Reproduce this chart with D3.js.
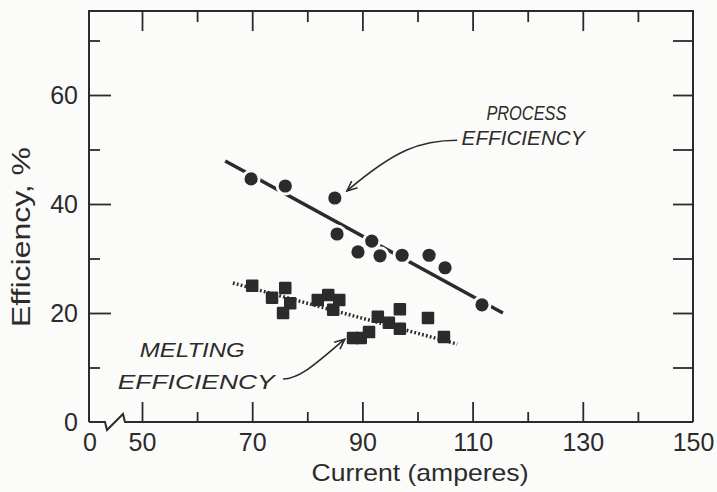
<!DOCTYPE html>
<html><head><meta charset="utf-8">
<script src="https://cdn.jsdelivr.net/npm/d3@7"></script>
<style>
html,body{margin:0;padding:0;background:#fbfbf9;}
svg{display:block;}
</style></head><body>
<svg id="chart" width="717" height="492"></svg>
<script>
// Process efficiency measurements (current in amperes, efficiency in %)
const processCurrent = [69.8, 76.0, 85.0, 85.4, 89.2, 91.7, 93.2, 97.2, 102.1, 105.0, 111.7];
const processEff     = [44.6, 43.3, 41.1, 34.5, 31.2, 33.2, 30.5, 30.6, 30.6, 28.3, 21.5];

// Melting efficiency measurements
const meltCurrent = [70.0, 73.6, 76.0, 76.9, 75.6, 81.9, 83.8, 85.8, 84.7, 88.3, 89.7, 91.2, 92.8, 94.8, 96.8, 96.8, 101.9, 104.8];
const meltEff     = [25.0, 22.8, 24.6, 21.8, 20.0, 22.4, 23.3, 22.4, 20.6, 15.4, 15.4, 16.5, 19.3, 18.2, 20.7, 17.1, 19.1, 15.6];

// Trend lines (end points)
const processFitCurrent = [65.1, 115.5];
const processFitEff     = [47.9, 20.0];
const meltFitCurrent    = [66.5, 107.2];
const meltFitEff        = [25.5, 14.3];

// Axis ticks
const xMajorTicks = [50, 70, 90, 110, 130];
const xMinorTicks = [60, 80, 100, 120, 140];
const xTickLabels = [50, 70, 90, 110, 130, 150];
const yMajorTicks = [20, 40, 60];
const yMinorTicks = [10, 30, 50, 70];
const yTickLabels = [0, 20, 40, 60];

const ink = "#2b2b2b";
const svg = d3.select("#chart");
const x = d3.scaleLinear().domain([50, 150]).range([142, 693]);
const y = d3.scaleLinear().domain([0, 60]).range([422, 95]);

const plotL = x(50) - 53, plotR = x(150), plotB = y(0), plotT = y(75.4);
const fontFam = "'Liberation Sans', Arial, sans-serif";

// ---- frame with broken x axis ----
const frame = svg.append("g").attr("fill", "none").attr("stroke", ink).attr("stroke-width", 2);
frame.append("path").attr("d",
  `M${plotL},${plotB} V${plotT} H${plotR} V${plotB}`);
frame.append("path").attr("d",
  `M${plotL},${plotB} H${plotL+16} L${plotL+18},${plotB+8} L${plotL+34},${plotB-8} L${plotL+36},${plotB} H${plotR}`);

// ---- ticks via d3 axes ----
function styleAxis(g) {
  g.select(".domain").remove();
  g.selectAll(".tick line").attr("stroke", ink).attr("stroke-width", 1.8);
  g.selectAll(".tick text").attr("fill", ink).attr("font-size", 25).attr("font-family", fontFam);
}
// bottom
svg.append("g").attr("transform", `translate(0,${plotB})`)
  .call(d3.axisBottom(x).tickValues(xMajorTicks).tickSize(-20).tickFormat(""))
  .call(styleAxis);
svg.append("g").attr("transform", `translate(0,${plotB})`)
  .call(d3.axisBottom(x).tickValues(xMinorTicks).tickSize(-10).tickFormat(""))
  .call(styleAxis);
svg.append("g").attr("transform", `translate(0,${plotB})`)
  .call(d3.axisBottom(x).tickValues(xTickLabels).tickSize(0).tickPadding(11).tickFormat(d3.format("d")))
  .call(styleAxis);
// top
svg.append("g").attr("transform", `translate(0,${plotT})`)
  .call(d3.axisTop(x).tickValues(xMajorTicks).tickSize(-20).tickFormat(""))
  .call(styleAxis);
svg.append("g").attr("transform", `translate(0,${plotT})`)
  .call(d3.axisTop(x).tickValues(xMinorTicks).tickSize(-11).tickFormat(""))
  .call(styleAxis);
// left
svg.append("g").attr("transform", `translate(${plotL},0)`)
  .call(d3.axisLeft(y).tickValues(yMajorTicks).tickSize(-22).tickFormat(""))
  .call(styleAxis);
svg.append("g").attr("transform", `translate(${plotL},0)`)
  .call(d3.axisLeft(y).tickValues(yMinorTicks).tickSize(-11).tickFormat(""))
  .call(styleAxis);
svg.append("g").attr("transform", `translate(${plotL},0)`)
  .call(d3.axisLeft(y).tickValues(yTickLabels).tickSize(0).tickPadding(11).tickFormat(d3.format("d")))
  .call(styleAxis);
// right
svg.append("g").attr("transform", `translate(${plotR},0)`)
  .call(d3.axisRight(y).tickValues(yMajorTicks.concat(yMinorTicks)).tickSize(-20).tickFormat(""))
  .call(styleAxis);
// "0" at the origin of the broken x axis
svg.append("text").attr("x", plotL + 1).attr("y", plotB + 11).attr("dy", "0.71em")
  .attr("text-anchor", "middle").attr("fill", ink).attr("font-size", 25)
  .attr("font-family", fontFam).text("0");

// ---- axis titles ----
svg.append("text").attr("x", 420).attr("y", 481).attr("text-anchor", "middle")
  .attr("font-size", 24).attr("font-family", fontFam).attr("fill", ink)
  .attr("textLength", 217).attr("lengthAdjust", "spacingAndGlyphs")
  .text("Current (amperes)");
svg.append("text").attr("transform", "translate(30,237) rotate(-90)")
  .attr("text-anchor", "middle").attr("font-size", 25).attr("font-family", fontFam).attr("fill", ink)
  .attr("textLength", 180).attr("lengthAdjust", "spacingAndGlyphs")
  .text("Efficiency, %");

// ---- trend lines ----
const line = d3.line().x(d => x(d[0])).y(d => y(d[1]));
svg.append("path").datum(d3.zip(processFitCurrent, processFitEff))
  .attr("d", line).attr("fill", "none").attr("stroke", ink).attr("stroke-width", 3.5);
svg.append("path").datum(d3.zip(meltFitCurrent, meltFitEff))
  .attr("d", line).attr("fill", "none").attr("stroke", ink).attr("stroke-width", 3.5)
  .attr("stroke-dasharray", "1.8,2.2");

// ---- process points: white halo then solid dot ----
const procPts = d3.zip(processCurrent, processEff);
svg.append("g").selectAll("circle").data(procPts).join("circle")
  .attr("cx", d => x(d[0])).attr("cy", d => y(d[1])).attr("r", 9.5).attr("fill", "#fbfbf9");
svg.append("g").selectAll("circle").data(procPts).join("circle")
  .attr("cx", d => x(d[0])).attr("cy", d => y(d[1])).attr("r", 6.6).attr("fill", ink);

// ---- melting points: squares ----
const sq = 12.5;
svg.append("g").selectAll("rect").data(d3.zip(meltCurrent, meltEff)).join("rect")
  .attr("x", d => x(d[0]) - sq / 2).attr("y", d => y(d[1]) - sq / 2)
  .attr("width", sq).attr("height", sq).attr("rx", 1.2).attr("fill", ink);

// ---- annotations ----
function arrow(pts) {
  const p = pts.map(d => [x(d[0]), y(d[1])]);
  svg.append("path")
    .attr("d", `M${p[0]} C${p[1]} ${p[2]} ${p[3]}`)
    .attr("fill", "none").attr("stroke", ink).attr("stroke-width", 1.6);
  const ang = Math.atan2(p[3][1] - p[2][1], p[3][0] - p[2][0]);
  const L = 11, spread = 0.42;
  const a1 = [p[3][0] - L * Math.cos(ang - spread), p[3][1] - L * Math.sin(ang - spread)];
  const a2 = [p[3][0] - L * Math.cos(ang + spread), p[3][1] - L * Math.sin(ang + spread)];
  svg.append("path").attr("d", `M${a1} L${p[3]} L${a2}`)
    .attr("fill", "none").attr("stroke", ink).attr("stroke-width", 1.6);
}
function label(cx, cy, txt, len) {
  svg.append("text").attr("x", x(cx)).attr("y", y(cy))
    .attr("font-size", 20).attr("font-style", "italic").attr("font-family", fontFam)
    .attr("fill", ink).attr("textLength", len).attr("lengthAdjust", "spacingAndGlyphs")
    .text(txt);
}
label(112.5, 55.4, "PROCESS", 80);
label(108.0, 50.9, "EFFICIENCY", 123);
arrow([[107.2, 51.7], [100.5, 51.7], [95.9, 49.9], [87.2, 42.4]]);

label(49.6, 11.9, "MELTING", 105);
label(45.6, 6.1, "EFFICIENCY", 157);
arrow([[75.6, 7.9], [78.7, 7.9], [81.9, 11.0], [86.8, 15.2]]);
</script>
</body></html>
